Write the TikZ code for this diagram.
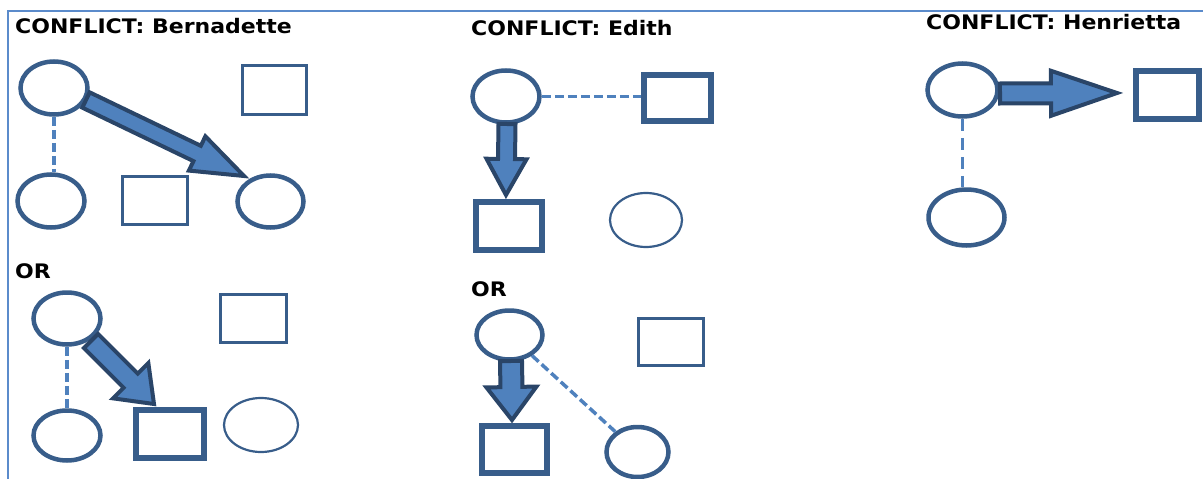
\documentclass[tikz,border=0pt]{standalone}
\usepackage{fontspec}
\newfontfamily\titlefont{DejaVu Sans}
\usetikzlibrary{shapes.geometric,calc}
\definecolor{cdark}{HTML}{385D8A}
\definecolor{clight}{HTML}{4F81BD}
\definecolor{cout}{HTML}{2A4568}
\definecolor{cframe}{HTML}{5B8BCB}
\tikzset{
  ttl/.style={font=\titlefont\bfseries\fontsize{20}{22}\selectfont, xscale=1.1, inner sep=0pt, anchor=base west, text=black},
  ov/.style={ellipse, draw=cdark, inner sep=0pt, line width=4.5pt},
  ovthin/.style={ellipse, draw=cdark, inner sep=0pt, line width=2.2pt},
  sqthick/.style={rectangle, draw=cdark, inner sep=0pt, line width=6pt},
  sqthin/.style={rectangle, draw=cdark, inner sep=0pt, line width=2.6pt},
  dashl/.style={draw=clight, line width=3.5pt, dash pattern=on 9pt off 4pt},
  barrow/.style={fill=clight, draw=cout, line width=4pt, line join=miter},
}
% start, tip, half shaft width, half head width, head length
\newcommand\blockarrow[5]{%
  \coordinate (bam) at ($(#2)!#5!(#1)$);
  \draw[barrow] ($(#1)!#3!90:(#2)$) -- ($(bam)!#3!90:(#2)$) -- ($(bam)!#4!90:(#2)$)
    -- (#2) -- ($(bam)!#4!-90:(#2)$) -- ($(bam)!#3!-90:(#2)$) -- ($(#1)!#3!-90:(#2)$) -- cycle;
}
\begin{document}
\begin{tikzpicture}[x=1pt,y=-1pt]
\useasboundingbox (0,0) rectangle (1203,479);
% frame
\draw[cframe, line width=2pt] (1203,11) -- (8,11) -- (8,479);

% ---------- Bernadette ----------
\node[ttl] (t1) at (15,34) {CONFLICT: Bernadette};
\node[ov, minimum width=67pt, minimum height=53pt] (c1) at (54,88) {};
\node[ov, minimum width=67pt, minimum height=53pt] (c2) at (51,201) {};
\node[ov, minimum width=66pt, minimum height=52pt] (c3) at (270.5,201.5) {};
\node[sqthin, minimum width=64pt, minimum height=49pt] (s1) at (274.5,90) {};
\node[sqthin, minimum width=65pt, minimum height=48pt] (s2) at (155,200.5) {};
\draw[dashl] (c1.south) -- (c1.south |- c2.north);
\coordinate (a1s) at (86,100);
\coordinate (a1t) at (244,176);
\blockarrow{a1s}{a1t}{8.5pt}{19pt}{52pt}

% ---------- Bernadette OR ----------
\node[ttl] (t2) at (15,278) {OR};
\node[ov, minimum width=67pt, minimum height=52pt] (c4) at (67,318.5) {};
\node[sqthin, minimum width=66pt, minimum height=48pt] (s3) at (253.5,318.5) {};
\node[ov, minimum width=67pt, minimum height=50pt] (c5) at (67,435.5) {};
\node[sqthick, minimum width=68pt, minimum height=48pt] (s4) at (170,434) {};
\node[ovthin, minimum width=74pt, minimum height=54pt] (c6) at (261,425) {};
\draw[dashl] (c4.south) -- (c5.north);
\coordinate (a2s) at (91,341);
\coordinate (a2t) at (154,404);
\blockarrow{a2s}{a2t}{10pt}{25pt}{33pt}

% ---------- Edith ----------
\node[ttl] (t3) at (471,35) {CONFLICT: Edith};
\node[ov, minimum width=67pt, minimum height=52pt] (c7) at (506,96.5) {};
\node[sqthick, minimum width=67pt, minimum height=46pt] (s5) at (677.5,98) {};
\node[sqthick, minimum width=66pt, minimum height=48pt] (s6) at (509,226) {};
\node[ovthin, minimum width=72pt, minimum height=54pt] (c8) at (646,220) {};
\draw[dashl] (c7.east) -- (c7.east -| s5.west);
\coordinate (a3s) at (507,124);
\coordinate (a3t) at (506,195);
\blockarrow{a3s}{a3t}{8.5pt}{20pt}{36pt}

% ---------- Edith OR ----------
\node[ttl] (t4) at (471,296) {OR};
\node[ov, minimum width=66pt, minimum height=49pt] (c9) at (509.5,335) {};
\node[sqthin, minimum width=65pt, minimum height=47pt] (s7) at (671,342) {};
\node[sqthick, minimum width=65pt, minimum height=47pt] (s8) at (514.5,449.5) {};
\node[ov, minimum width=62pt, minimum height=50pt] (c10) at (637.5,452) {};
\draw[dashl] (c9) -- (c10);
\coordinate (a4s) at (511,361);
\coordinate (a4t) at (512,420);
\blockarrow{a4s}{a4t}{11pt}{25pt}{33pt}

% ---------- Henrietta ----------
\node[ttl] (t5) at (926,30) {CONFLICT: Henrietta};
\node[ov, minimum width=70pt, minimum height=53pt] (c11) at (962.5,90) {};
\node[sqthick, minimum width=63pt, minimum height=48pt] (s9) at (1167.5,95) {};
\node[ov, minimum width=76pt, minimum height=56pt] (c12) at (966.5,217.5) {};
\draw[dashl, dash pattern=on 12pt off 7pt] (c11.south) -- (c11.south |- c12.north);
\coordinate (a5s) at (1000,93.5);
\coordinate (a5t) at (1117,93);
\blockarrow{a5s}{a5t}{10pt}{22.5pt}{66pt}
\end{tikzpicture}
\end{document}
